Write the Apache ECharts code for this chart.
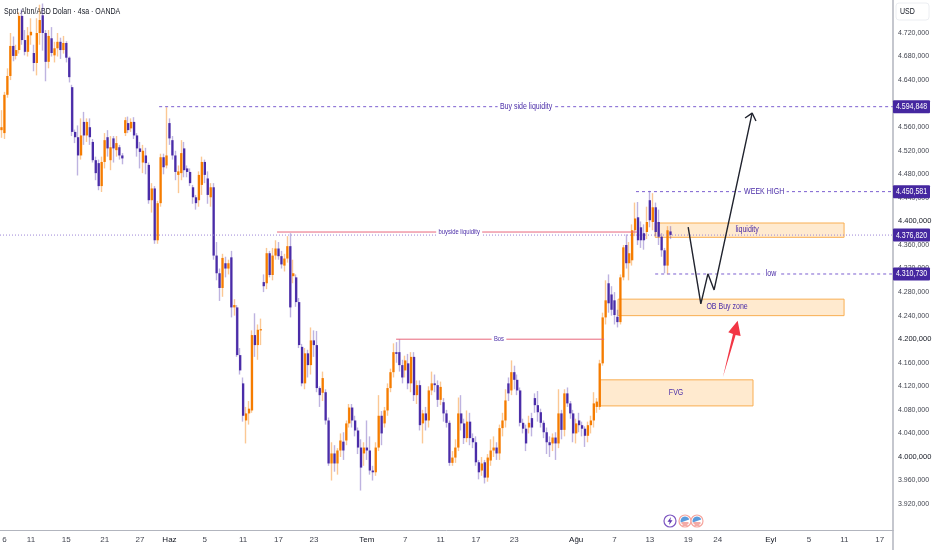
<!DOCTYPE html>
<html><head><meta charset="utf-8">
<style>html,body{margin:0;padding:0;background:#fff}#c{width:932px;height:550px}</style>
<script src="https://cdn.jsdelivr.net/npm/echarts@6/dist/echarts.min.js"></script>
</head><body><div id="c"></div>
<script>
// [open, close, low, high]
const mayCandles=[[4555,4560,4542,4589],[4550,4615,4540,4620],[4615,4647,4610,4660],[4647,4698,4640,4720],[4698,4681,4672,4714],[4681,4691,4675,4700],[4691,4749,4685,4755],[4749,4708,4700,4760],[4708,4688,4682,4725],[4688,4716,4680,4730],[4716,4722,4700,4745],[4686,4669,4655,4700],[4669,4720,4648,4745],[4720,4742,4700,4768],[4750,4720,4690,4770],[4720,4671,4638,4725],[4671,4715,4660,4725],[4711,4686,4680,4730],[4682,4694,4670,4705],[4694,4705,4680,4720],[4705,4691,4676,4712],[4691,4703,4685,4715],[4703,4678,4670,4706],[4678,4645,4636,4680],[4628,4552,4545,4632],[4552,4543,4533,4556],[4543,4512,4478,4563],[4512,4546,4505,4575],[4569,4546,4530,4586],[4546,4569,4535,4575],[4560,4543,4530,4575],[4535,4504,4500,4540],[4504,4482,4470,4510],[4499,4460,4453,4505],[4460,4501,4450,4510],[4501,4538,4490,4550],[4543,4524,4510,4555],[4504,4526,4487,4545],[4541,4524,4500,4545],[4521,4533,4510,4545],[4526,4512,4505,4530],[4512,4507,4497,4516],[4550,4572,4545,4577],[4567,4555,4550,4578],[4558,4569,4552,4575],[4569,4546,4540,4577],[4546,4524,4510,4550],[4524,4518,4490,4535],[4500,4520,4482,4530],[4512,4499,4480,4525],[4496,4436,4430,4500],[4436,4456,4415,4465],[4456,4368,4362,4460],[4368,4431,4362,4435],[4431,4509,4425,4515],[4509,4492,4480,4515]];
const juneCandles=[[4495,4512,4490,4594],[4567,4541,4530,4575],[4538,4512,4505,4545],[4512,4484,4470,4520],[4479,4485,4448,4495],[4482,4516,4470,4538],[4524,4487,4475,4535],[4490,4484,4475,4495],[4484,4465,4460,4490],[4458,4441,4430,4462],[4441,4431,4420,4445],[4436,4479,4425,4485],[4462,4501,4445,4510],[4501,4479,4465,4505],[4473,4445,4430,4485],[4441,4458,4425,4465],[4458,4342,4335,4465],[4342,4312,4300,4365],[4312,4287,4265,4320],[4287,4338,4272,4345],[4329,4320,4305,4340],[4320,4329,4310,4335],[4339,4254,4237,4350],[4254,4258,4240,4268],[4254,4173,4170,4258],[4173,4147,4140,4185],[4125,4070,4060,4135],[4062,4074,4023,4085],[4074,4082,4055,4095],[4079,4207,4075,4215],[4207,4190,4170,4244],[4190,4216,4165,4225],[4216,4217,4190,4235],[4297,4290,4280,4310],[4295,4346,4285,4355],[4346,4309,4305,4350],[4309,4342,4300,4355],[4342,4354,4335,4368],[4354,4341,4335,4365],[4341,4327,4320,4350],[4325,4337,4315,4345],[4337,4358,4330,4375],[4358,4254,4237,4380],[4307,4312,4295,4335],[4305,4263,4255,4310],[4263,4190,4185,4270],[4187,4125,4120,4192],[4125,4176,4115,4185],[4176,4156,4135,4182],[4156,4198,4140,4220],[4198,4190,4170,4215],[4190,4117,4110,4214],[4117,4105,4085,4120],[4109,4134,4095,4145],[4110,4062,4055,4115],[4062,3989,3985,4067],[3989,4006,3960,4025],[4006,3989,3975,4020],[3989,4011,3970,4015],[4011,4028,4000,4040],[4026,4011,3995,4042],[4028,4057,4020,4062],[4057,4084,4050,4090],[4084,4062,4050,4090],[4062,4045,4035,4070],[4045,4016,4005,4050],[4016,3982,3943,4030],[4006,4016,3985,4025]];
const julyCandles=[[4016,4011,3995,4062],[4011,3977,3970,4035],[3977,3974,3960,3985],[3974,4016,3968,4025],[4016,4070,4010,4105],[4070,4040,4020,4078],[4057,4079,4050,4085],[4079,4117,4070,4125],[4117,4144,4110,4150],[4144,4178,4135,4193],[4178,4175,4160,4195],[4178,4156,4145,4200],[4156,4135,4125,4165],[4147,4164,4135,4172],[4159,4125,4115,4175],[4125,4170,4110,4178],[4170,4105,4095,4178],[4105,4122,4090,4130],[4122,4054,4045,4130],[4057,4074,4023,4080],[4074,4062,4045,4085],[4062,4113,4050,4120],[4113,4125,4105,4145],[4125,4122,4110,4140],[4122,4097,4085,4130],[4097,4119,4088,4128],[4093,4074,4060,4100],[4074,4058,4050,4080],[4058,3990,3985,4062],[3990,3999,3985,4010],[3999,4016,3990,4030],[4016,4074,4010,4101],[4074,4057,4045,4105],[4057,4032,4022,4065],[4032,4060,4025,4079],[4060,4032,4020,4075],[4032,4025,4015,4040],[4025,3991,3985,4035],[3991,3974,3962,3995],[3977,3989,3968,4000],[3991,3965,3955,3995],[3965,3999,3958,4005],[3994,4011,3985,4030],[4011,4016,4000,4035],[4016,4006,3995,4025],[4006,4049,3995,4055],[4049,4062,4035,4075],[4062,4096,4050,4115],[4125,4108,4095,4135],[4113,4144,4105,4164],[4144,4131,4115,4155],[4131,4113,4105,4140],[4113,4058,4052,4118],[4058,4048,4040,4065],[4048,4023,4010,4055],[4050,4058,4040,4070],[4066,4050,4035,4075],[4100,4088,4075,4108],[4088,4076,4060,4112],[4076,4058,4050,4082],[4058,4042,4032,4062],[4042,4025,4005,4050],[4025,4020,4000,4035],[4023,4033,4010,4040],[4033,4023,3995,4042],[4023,4074,4015,4115],[4074,4046,4030,4080],[4046,4108,4035,4115]];
const augustCandles=[[4108,4091,4085,4118],[4091,4074,4065,4095],[4074,4040,4025,4080],[4040,4057,4023,4065],[4062,4054,4042,4075],[4054,4048,4035,4060],[4048,4036,4017,4052],[4036,4054,4025,4060],[4054,4062,4040,4070],[4062,4091,4050,4110],[4085,4094,4075,4100],[4085,4159,4080,4165],[4159,4237,4155,4245],[4237,4266,4225,4300],[4295,4261,4245,4310],[4276,4250,4240,4290],[4266,4241,4225,4280],[4238,4229,4220,4250],[4229,4305,4225,4310],[4305,4356,4300,4360],[4360,4329,4320,4378],[4329,4346,4300,4365],[4334,4385,4325,4395],[4385,4405,4375,4432],[4407,4368,4360,4433],[4390,4368,4355,4400],[4380,4368,4352,4395],[4382,4399,4370,4425],[4436,4402,4390,4452],[4399,4424,4385,4448],[4424,4382,4375,4432],[4399,4374,4360,4420],[4374,4351,4340,4380],[4351,4325,4312,4355],[4325,4385,4310,4392],[4383,4377,4370,4392]];

const slotCount=303;
const dateTickSlots=[1,10,22,35,47,57,69,82,94,106,124,137,149,161,174,195,208,220,233,243,261,274,286,298];
const dateTickLabels=['6','11','15','21','27','Haz','5','11','17','23','Tem','7','11','17','23','Ağu','7','13','19','24','Eyl','5','11','17'];
const priceTicks=[3920,3960,4000,4040,4080,4120,4160,4200,4240,4280,4320,4360,4400,4440,4480,4520,4560,4600,4640,4680,4720];
const strongTicks=[4000,4200,4400];
const priceTags=[4594.848,4450.581,4376.82,4310.73];

const levelNames=['Buy side liquidity','WEEK HIGH','low'];
const levelStart=[53.5,215.3,221.8];
const levelPrice=[4594.848,4450.581,4310.73];
const levelTextAt=[178,258.8,261.1];
const refNames=['buyside liquidity','Bos'];
const refStart=[93.5,133.9];
const refEnd=[215.7,204.5];
const refPrice=[4382,4200];
const refTextAt=[155.3,168.8];
const zoneNames=['liquidity','OB Buy zone','FVG'];
const zoneStart=[221.8,209.2,203.1];
const zoneEnd=[285.9,285.9,255];
const zoneTop=[4397.3,4268,4131];
const zoneBottom=[4373,4240,4086.7];
const zoneTextAt=[253,246.2,228.9];
const zoneTextPrice=[4387,4255,4110];
const pathPoints=[[233,4390.5],[237.3,4260],[239.7,4311],[241.8,4283.6],[254.7,4584]];
const arrowBarbs=[[252.3,4575.6],[254.7,4584],[256,4570.5]];
const redArrow=[[244.8,4136],[248.2,4209],[246.6,4212],[249.8,4231.5],[250.8,4205.5],[249.1,4207]];

const UP='#f57c00',DOWN='#4a2ca8',PURPLE='#4a2ca8',FONT='"Liberation Sans",sans-serif';
const candles=[...mayCandles,...juneCandles,...julyCandles,...augustCandles];
const categories=Array.from({length:slotCount},()=>'' );
dateTickSlots.forEach((s,i)=>categories[s]=dateTickLabels[i]);
const fmt=v=>{const s=v.toFixed(3).replace('.',',');return s[0]+'.'+s.slice(1);};
const xMax=slotCount-0.5;
const SQ=0.78;

const chart=echarts.init(document.getElementById('c'),null,{renderer:'canvas'});
const squeezed=(t,x,y,fill,size,extra)=>({type:'text',x,y,scaleX:SQ,z2:5,style:Object.assign({text:t,x:0,y:0,fill,font:size+'px '+FONT,align:'center',verticalAlign:'middle'},extra||{})});
const flag=(cx)=>({type:'group',x:cx,y:521,children:[
 {type:'circle',shape:{r:6},style:{fill:'#fff',stroke:'#f6a59d',lineWidth:1.2}},
 {type:'sector',shape:{r:4.5,startAngle:Math.PI*0.9,endAngle:Math.PI*1.9},style:{fill:'#5b9bdc'}},
 {type:'line',shape:{x1:-3.5,y1:2,x2:3.5,y2:2},style:{stroke:'#e6574f',lineWidth:1}},
 {type:'line',shape:{x1:-2.5,y1:4,x2:2.5,y2:4},style:{stroke:'#e6574f',lineWidth:1}}]});

chart.setOption({
 animation:false,backgroundColor:'#fff',
 grid:{left:0,right:39,top:0,bottom:20,containLabel:false,outerBoundsMode:'none'},
 xAxis:[{type:'category',data:categories,boundaryGap:true,axisLine:{onZero:false,lineStyle:{color:'#b2b5be',width:1}},axisTick:{show:false},splitLine:{show:false},
   axisLabel:{interval:0,margin:6,fontFamily:FONT,fontSize:8,color:'#434651',hideOverlap:false,
     formatter:v=>['Haz','Tem','Ağu','Eyl'].includes(v)?'{m|'+v+'}':v,rich:{m:{fontFamily:FONT,fontSize:8,color:'#131722'}}}},
  {type:'value',min:-0.5,max:xMax,show:false}],
 yAxis:[{type:'value',position:'right',min:3876,max:4776,axisLine:{show:true,onZero:false,lineStyle:{color:'#b2b5be',width:1.5}},axisTick:{show:false},splitLine:{show:false},
   axisLabel:{customValues:priceTicks,margin:5,fontFamily:FONT,fontSize:7,color:'#434651',
     formatter:v=>strongTicks.includes(v)?'{s|'+fmt(v)+'}':fmt(v),rich:{s:{fontFamily:FONT,fontSize:7.5,color:'#131722'}}}}],
 graphic:[
  {type:'text',x:4,y:12,scaleX:SQ,style:{text:'Spot Altın/ABD Doları · 4sa · OANDA',x:0,y:0,fill:'#131722',font:'9px '+FONT,verticalAlign:'middle'},silent:true},
  {type:'line',shape:{x1:893,y1:530,x2:893,y2:550},style:{stroke:'#b2b5be',lineWidth:1.5},silent:true},
  {type:'rect',shape:{x:896,y:3,width:33,height:17,r:3},style:{fill:'#fff',stroke:'#eceef2',lineWidth:1},silent:true},
  {type:'text',x:900,y:12,scaleX:SQ,style:{text:'USD',x:0,y:0,fill:'#131722',font:'9px '+FONT,verticalAlign:'middle'},silent:true},
  {type:'group',x:670,y:521,children:[
    {type:'circle',shape:{r:6},style:{fill:'#fff',stroke:'#7e57c2',lineWidth:1.2}},
    {type:'polygon',shape:{points:[[1,-4],[-2.5,0.8],[-0.3,0.8],[-1,4],[2.5,-0.8],[0.3,-0.8]]},style:{fill:'#5e35b1'}}]},
  flag(685),flag(697)
 ],
 series:[
  {name:'zones',type:'custom',xAxisIndex:1,yAxisIndex:0,z:1,silent:true,data:zoneNames.map((n,i)=>i),encode:{x:-1,y:-1},
   renderItem:(p,api)=>{const i=api.value(0),a=api.coord([zoneStart[i],zoneTop[i]]),b=api.coord([zoneEnd[i],zoneBottom[i]]);
     return {type:'rect',shape:{x:a[0],y:a[1],width:b[0]-a[0],height:b[1]-a[1]},style:{fill:'#ffeacf',stroke:'#f9ae52',lineWidth:1}};}},
  {name:'wicks',type:'candlestick',z:2,silent:true,barWidth:1,data:candles,
   itemStyle:{color:'rgba(245,124,0,0.42)',color0:'rgba(74,44,168,0.36)',borderColor:'rgba(245,124,0,0.42)',borderColor0:'rgba(74,44,168,0.36)',borderWidth:1.4}},
  {name:'bodies',type:'custom',xAxisIndex:1,yAxisIndex:0,z:3,silent:true,data:candles.map((c,i)=>[i,c[0],c[1]]),encode:{x:0,y:[1,2]},
   renderItem:(p,api)=>{const a=api.coord([api.value(0),api.value(1)]),b=api.coord([api.value(0),api.value(2)]);const up=api.value(2)>=api.value(1);
     const top=Math.min(a[1],b[1]);const h=Math.max(1.2,Math.abs(a[1]-b[1]));
     return {type:'rect',shape:{x:a[0]-1.15,y:top,width:2.3,height:h},style:{fill:up?UP:DOWN}};}},
  {name:'zoneText',type:'custom',xAxisIndex:1,yAxisIndex:0,z:4,silent:true,data:zoneNames.map((n,i)=>i),encode:{x:-1,y:-1},
   renderItem:(p,api)=>{const i=api.value(0),c=api.coord([zoneTextAt[i],zoneTextPrice[i]]);return squeezed(zoneNames[i],c[0],c[1],PURPLE,9);}},
  {name:'last',type:'custom',xAxisIndex:1,yAxisIndex:0,z:4,silent:true,data:[priceTags[2]],encode:{x:-1,y:0},
   renderItem:(p,api)=>{const a=api.coord([-0.5,api.value(0)]),b=api.coord([xMax,api.value(0)]);
     return {type:'line',shape:{x1:a[0],y1:a[1],x2:b[0],y2:b[1]},style:{stroke:'#9c86d6',lineWidth:1,lineDash:[1,2]}};}},
  {name:'levels',type:'custom',xAxisIndex:1,yAxisIndex:0,z:5,silent:true,data:levelNames.map((n,i)=>i),encode:{x:-1,y:-1},
   renderItem:(p,api)=>{const i=api.value(0),a=api.coord([levelStart[i],levelPrice[i]]),b=api.coord([xMax,levelPrice[i]]),t=api.coord([levelTextAt[i],levelPrice[i]]);
     return {type:'group',children:[{type:'line',shape:{x1:a[0],y1:a[1],x2:b[0],y2:b[1]},style:{stroke:'#7c5fd0',lineWidth:1,lineDash:[3,3]}},
       squeezed(levelNames[i],t[0],t[1],PURPLE,9,{backgroundColor:'#fff',padding:[0,3]})]};}},
  {name:'refs',type:'custom',xAxisIndex:1,yAxisIndex:0,z:5,silent:true,data:refNames.map((n,i)=>i),encode:{x:-1,y:-1},
   renderItem:(p,api)=>{const i=api.value(0),a=api.coord([refStart[i],refPrice[i]]),b=api.coord([refEnd[i],refPrice[i]]),t=api.coord([refTextAt[i],refPrice[i]]);
     return {type:'group',children:[{type:'line',shape:{x1:a[0],y1:a[1],x2:b[0],y2:b[1]},style:{stroke:'#e8667a',lineWidth:1}},
       squeezed(refNames[i],t[0],t[1],PURPLE,7.5,{backgroundColor:'#fff',padding:[0,3]})]};}},
  {name:'path',type:'line',xAxisIndex:1,yAxisIndex:0,z:6,silent:true,symbol:'none',data:pathPoints,lineStyle:{color:'#20232e',width:1.4}},
  {name:'pathHead',type:'line',xAxisIndex:1,yAxisIndex:0,z:6,silent:true,symbol:'none',data:arrowBarbs,lineStyle:{color:'#20232e',width:1.4}},
  {name:'redArrow',type:'custom',xAxisIndex:1,yAxisIndex:0,z:6,silent:true,data:[0],encode:{x:-1,y:-1},
   renderItem:(p,api)=>({type:'polygon',shape:{points:redArrow.map(q=>api.coord(q))},style:{fill:'#f23645'}})},
  {name:'tags',type:'custom',xAxisIndex:1,yAxisIndex:0,z:10,silent:true,clip:false,data:priceTags,encode:{x:-1,y:0},
   renderItem:(p,api)=>{const c=api.coord([xMax,api.value(0)]);
     return {type:'group',children:[{type:'rect',shape:{x:c[0],y:c[1]-6.5,width:37,height:13,r:1},style:{fill:'#4527a0'}},
       squeezed(fmt(api.value(0)),c[0]+18.5,c[1],'#fff',9)]};}}
 ]
});
</script></body></html>
